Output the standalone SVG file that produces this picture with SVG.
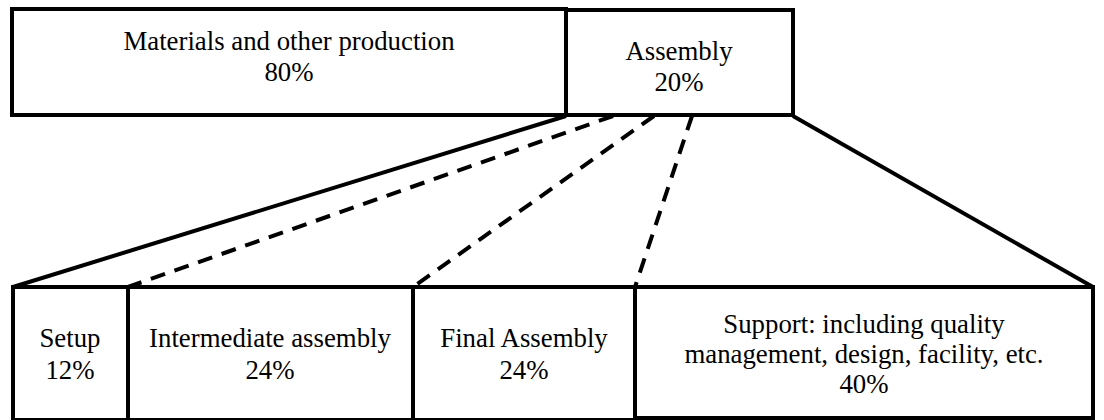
<svg xmlns="http://www.w3.org/2000/svg" width="1104" height="420" viewBox="0 0 1104 420">
<style>
.box{fill:#fff;stroke:#000;stroke-width:4}
.t{font-family:'Liberation Serif','Times New Roman',serif;font-size:26.8px;fill:#000;text-anchor:middle}
.solid{stroke:#000;stroke-width:4;fill:none}
.dash{stroke:#000;stroke-width:4;fill:none;stroke-dasharray:15 10}
</style>
<rect width="1104" height="420" fill="#fff"/>
<g id="connectors">
<line class="solid" x1="566" y1="116" x2="13" y2="287"/>
<line class="dash" x1="613" y1="116" x2="128" y2="287"/>
<line class="dash" x1="654" y1="116" x2="413" y2="287"/>
<line class="dash" x1="692" y1="116" x2="635" y2="287"/>
<line class="solid" x1="793" y1="116" x2="1093" y2="287"/>
</g>
<g id="materials">
<rect class="box" x="12" y="9" width="554" height="106"/>
<text class="t" x="289" y="50">Materials and other production</text>
<text class="t" x="289" y="81">80%</text>
</g>
<g id="assembly">
<rect class="box" x="566" y="10" width="227" height="105"/>
<text class="t" x="679" y="60">Assembly</text>
<text class="t" x="679" y="91">20%</text>
</g>
<g id="setup">
<rect class="box" x="13" y="287" width="115" height="133"/>
<text class="t" x="70" y="347">Setup</text>
<text class="t" x="70" y="379">12%</text>
</g>
<g id="intermediate">
<rect class="box" x="128" y="287" width="285" height="133"/>
<text class="t" x="270" y="347">Intermediate assembly</text>
<text class="t" x="270" y="379">24%</text>
</g>
<g id="final">
<rect class="box" x="413" y="287" width="222" height="133"/>
<text class="t" x="524" y="347">Final Assembly</text>
<text class="t" x="524" y="379">24%</text>
</g>
<g id="support">
<rect class="box" x="635" y="287" width="458" height="131"/>
<text class="t" x="864" y="333">Support: including quality</text>
<text class="t" x="864" y="363">management, design, facility, etc.</text>
<text class="t" x="864" y="393">40%</text>
</g>
</svg>
